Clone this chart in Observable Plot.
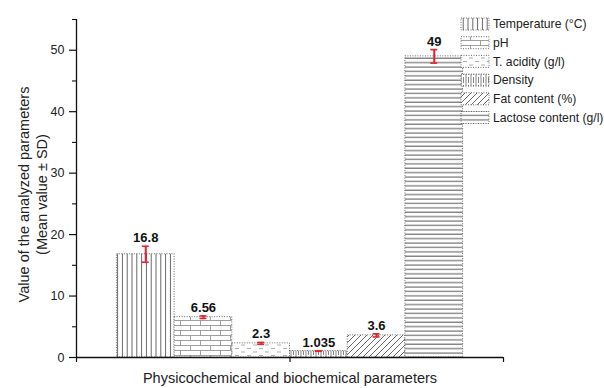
<!DOCTYPE html>
<html><head><meta charset="utf-8">
<script src="https://cdn.jsdelivr.net/npm/d3@7"></script>
<script src="https://cdn.jsdelivr.net/npm/@observablehq/plot@0.6"></script>
<style>body{margin:0;background:#fff;} #chart{position:relative;width:604px;height:388px;}</style>
</head><body>
<svg width="0" height="0" style="position:absolute">
<defs>
<pattern id="p-temp" patternUnits="userSpaceOnUse" width="4.8" height="10"><rect width="4.8" height="10" fill="#fff"/><line x1="2.4" y1="0" x2="2.4" y2="10" stroke="#555" stroke-width="0.9"/></pattern>
<pattern id="p-ph" patternUnits="userSpaceOnUse" width="20" height="10"><rect width="20" height="10" fill="#fff"/><path d="M0,0.5H20M0,5.5H20M0.5,0.5V5.5M10.5,5.5V10.5" stroke="#888" stroke-width="0.8" fill="none"/></pattern>
<pattern id="p-acid" patternUnits="userSpaceOnUse" width="12" height="7"><rect width="12" height="7" fill="#fff"/><path d="M1,2H5M7,5.5H11" stroke="#999" stroke-width="0.8" fill="none"/></pattern>
<pattern id="p-dens" patternUnits="userSpaceOnUse" width="5" height="8"><rect width="5" height="8" fill="#fff"/><path d="M1,0V8M3.5,0V3M3.5,5V8" stroke="#666" stroke-width="0.8" fill="none"/></pattern>
<pattern id="p-fat" patternUnits="userSpaceOnUse" width="6" height="6"><rect width="6" height="6" fill="#fff"/><path d="M0,6L6,0M-1.5,1.5L1.5,-1.5M4.5,7.5L7.5,4.5" stroke="#444" stroke-width="0.8" fill="none"/></pattern>
<pattern id="p-lac" patternUnits="userSpaceOnUse" width="10" height="4.4"><rect width="10" height="4.4" fill="#fff"/><line x1="0" y1="1" x2="10" y2="1" stroke="#444" stroke-width="0.9"/></pattern>
</defs>
</svg>
<div id="chart"></div>
<script>
const categories = ["Temperature (°C)", "pH", "T. acidity (g/l)", "Density", "Fat content (%)", "Lactose content (g/l)"];
const means = [16.8, 6.56, 2.3, 1.035, 3.6, 49];
const sds = [1.3, 0.2, 0.15, 0.03, 0.25, 1.1];
const yTicks = [0, 10, 20, 30, 40, 50];
const yMinorTicks = [5, 15, 25, 35, 45, 55];
const xLabel = "Physicochemical and biochemical parameters";
const yLabel = "Value of the analyzed parameters\n(Mean value ± SD)";

// styles
const patternIds = ["p-temp", "p-ph", "p-acid", "p-dens", "p-fat", "p-lac"];
const red = "#e8202a";
const font = "'Liberation Sans', Arial, Helvetica, sans-serif";

const data = categories.map((c, i) => ({category: c, x: i + 1, mean: means[i], sd: sds[i], fill: `url(#${patternIds[i]})`}));
const xDomain = [-0.2, 7.2];

const svg = Plot.plot({
  width: 604, height: 388,
  marginLeft: 76, marginRight: 101, marginTop: 19, marginBottom: 31,
  style: {fontFamily: font, fontSize: "12.5px", color: "#222", background: "#fff"},
  x: {domain: xDomain, axis: null},
  y: {domain: [0, 55], axis: null},
  color: {type: "identity"},
  marks: [
    Plot.rectY(data, {x1: d => d.x - 0.5, x2: d => d.x + 0.5, y1: 0, y2: "mean", fill: "fill", stroke: "#444", strokeDasharray: "1,1.5", strokeWidth: 0.8}),
    Plot.ruleX(data, {x: "x", y1: d => d.mean - d.sd, y2: d => d.mean + d.sd, stroke: red, strokeWidth: 2}),
    Plot.ruleY(data, {y: d => d.mean + d.sd, x1: d => d.x - 0.06, x2: d => d.x + 0.06, stroke: red, strokeWidth: 1.6}),
    Plot.ruleY(data, {y: d => d.mean - d.sd, x1: d => d.x - 0.06, x2: d => d.x + 0.06, stroke: red, strokeWidth: 1.6}),
    Plot.text(data, {x: "x", y: d => d.mean + d.sd, text: d => String(d.mean), lineAnchor: "bottom", dy: -4, fontWeight: "bold", fontSize: 13, fill: "#111"}),
    Plot.ruleX([xDomain[0]], {stroke: "#111", strokeWidth: 1.3}),
    Plot.ruleY([0], {stroke: "#111", strokeWidth: 1.3}),
    Plot.axisY({ticks: yTicks, tickSize: 7, tickPadding: 5, anchor: "left", label: null, stroke: "#111", strokeWidth: 1.2}),
    Plot.axisY({ticks: yMinorTicks, tickSize: 4, anchor: "left", label: null, tickFormat: () => "", stroke: "#111", strokeWidth: 1.1}),
    Plot.axisX({ticks: [xDomain[0], (xDomain[0] + xDomain[1]) / 2, xDomain[1]], tickSize: 5, anchor: "bottom", label: null, tickFormat: () => "", stroke: "#111", strokeWidth: 1.2}),
    Plot.text([yLabel], {text: d => d, frameAnchor: "left", rotate: -90, dx: -44, dy: 6, lineHeight: 1.25, fontSize: 14.5, textAnchor: "middle", lineAnchor: "middle", fill: "#222"}),
    Plot.text([xLabel], {text: d => d, frameAnchor: "bottom", dy: 21, fontSize: 14.5, textAnchor: "middle", lineAnchor: "middle", fill: "#222"})
  ]
});

// legend
const lg = d3.select(svg).append("g").attr("font-family", font).attr("font-size", 12.2).attr("fill", "#222").attr("text-anchor", "start");
categories.forEach((c, i) => {
  const cy = 24 + i * 18.7;
  lg.append("rect").attr("x", 461).attr("y", cy - 6).attr("width", 28).attr("height", 12)
    .attr("fill", `url(#${patternIds[i]})`).attr("stroke", "#444").attr("stroke-dasharray", "1,1.5").attr("stroke-width", 0.8);
  lg.append("text").attr("x", 493).attr("y", cy).attr("dy", "0.35em").attr("text-anchor", "start").text(c);
});

document.getElementById("chart").appendChild(svg);
</script>
</body></html>
